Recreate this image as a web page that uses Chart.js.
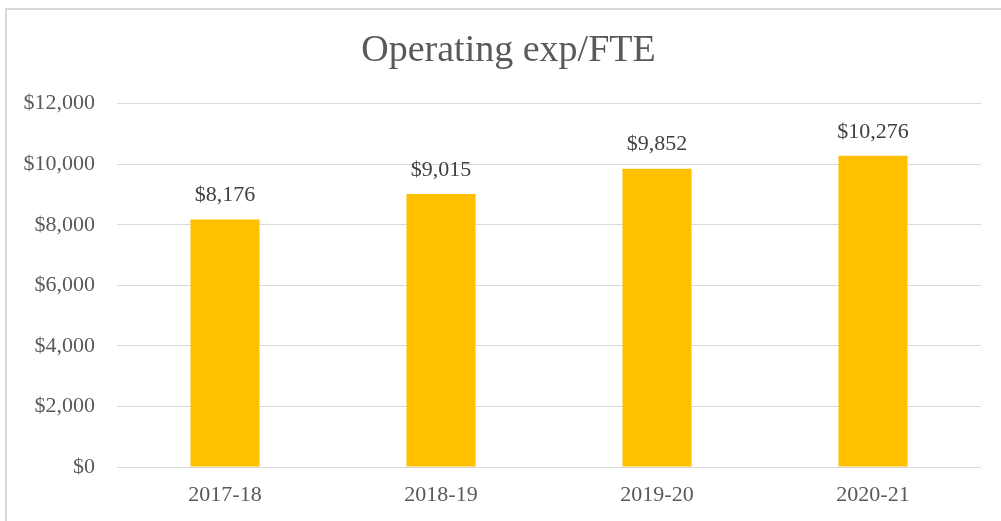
<!DOCTYPE html>
<html>
<head>
<meta charset="utf-8">
<script src="https://cdn.jsdelivr.net/npm/chart.js@4"></script>
<style>
  html, body { margin: 0; padding: 0; background: #fff; }
  #wrap { width: 1001px; height: 521px; position: relative; }
</style>
</head>
<body>
<div id="wrap"><canvas id="graphique"></canvas></div>
<script>
// Données du graphique
const annees = ["2017-18", "2018-19", "2019-20", "2020-21"];
const depenses = [8176, 9015, 9852, 10276];
const titre = "Operating exp/FTE";

const police = "'Liberation Serif', 'DejaVu Serif', serif";
const enDollars = v => "$" + Number(v).toLocaleString("en-US");

// Cadre gris clair (bords gauche et haut de la zone du graphique)
const cadre = {
  id: "cadre",
  beforeDraw(chart) {
    const ctx = chart.ctx;
    ctx.save();
    ctx.fillStyle = "#d9d9d9";
    ctx.fillRect(5, 8, 2, 513);
    ctx.fillRect(5, 8, 996, 2);
    ctx.restore();
  }
};

// Étiquettes de valeur au-dessus des barres
const etiquettes = {
  id: "etiquettes",
  afterDatasetsDraw(chart) {
    const ctx = chart.ctx;
    const meta = chart.getDatasetMeta(0);
    ctx.save();
    ctx.font = "22px " + police;
    ctx.fillStyle = "#404040";
    ctx.textAlign = "center";
    ctx.textBaseline = "middle";
    meta.data.forEach((barre, i) => {
      ctx.fillText(enDollars(depenses[i]), barre.x, barre.y - 24);
    });
    ctx.restore();
  }
};

const config = {
  type: "bar",
  data: {
    labels: annees,
    datasets: [{
      label: titre,
      data: depenses,
      backgroundColor: "#ffc000",
      categoryPercentage: 1,
      barPercentage: 0.32,
    }],
  },
  options: {
    responsive: true,
    maintainAspectRatio: false,
    animation: false,
    layout: { padding: { top: 10, right: 0, bottom: 0, left: 16 } },
    plugins: {
      legend: { display: false },
      tooltip: { enabled: false },
      title: {
        display: true,
        text: titre,
        color: "#595959",
        font: { family: police, size: 38, weight: "normal" },
        padding: { top: 18, bottom: 30 },
      },
    },
    scales: {
      x: {
        grid: { display: false, drawTicks: false },
        border: { display: false },
        ticks: { color: "#595959", padding: 15, font: { family: police, size: 22 } },
        afterFit(scale) { scale.height = 54; },
      },
      y: {
        min: 0,
        max: 12000,
        grid: { color: "#d9d9d9", lineWidth: 1, drawTicks: false },
        border: { display: false },
        ticks: {
          stepSize: 2000,
          color: "#595959",
          padding: 22,
          font: { family: police, size: 22 },
          callback: v => enDollars(v),
        },
        afterFit(scale) { scale.width = 101; },
      },
      // axe vide à droite, seulement pour la marge
      marge: {
        position: "right",
        grid: { display: false, drawTicks: false },
        border: { display: false },
        ticks: { display: false },
        afterFit(scale) { scale.width = 20; },
      },
    },
  },
  plugins: [cadre, etiquettes],
};

const graphique = new Chart(document.querySelector("#graphique"), config);
</script>
</body>
</html>
